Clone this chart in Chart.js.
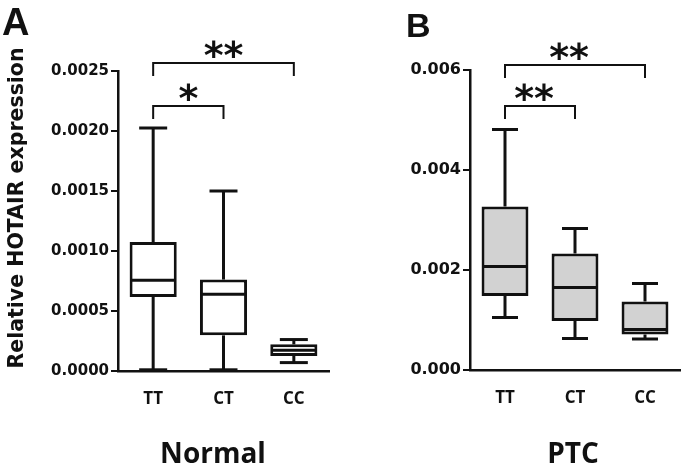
<!DOCTYPE html>
<html>
<head>
<meta charset="utf-8">
<script src="https://cdn.jsdelivr.net/npm/chart.js@4.4.1/dist/chart.umd.min.js"></script>
<style>
  html, body { margin:0; padding:0; background:#fff; }
  #wrap { position:relative; width:685px; height:470px; overflow:hidden; }
  .panel { position:absolute; top:0; }
</style>
</head>
<body>
<div id="wrap">
  <div class="panel" style="left:0"><canvas id="chart-normal" width="340" height="470"></canvas></div>
  <div class="panel" style="left:340px"><canvas id="chart-ptc" width="345" height="470"></canvas></div>
</div>
<script>
/* ─── Data ────────────────────────────────────────────────────────────── */
const categories = ["TT", "CT", "CC"];

// Normal tissue (panel A)
const normalMin    = [0.00001, 0.00001, 0.00007];
const normalQ1     = [0.000617, 0.000297, 0.000125];
const normalMedian = [0.000756, 0.000639, 0.000172];
const normalQ3     = [0.001075, 0.000762, 0.000222];
const normalMax    = [0.002025, 0.0015, 0.000262];
const normalTicks  = [0, 0.0005, 0.001, 0.0015, 0.002, 0.0025];
const normalSig    = [[0, 2, "**"], [0, 1, "*"]];

// PTC tissue (panel B)
const ptcMin    = [0.00105, 0.00063, 0.00062];
const ptcQ1     = [0.00148, 0.00098, 0.00071];
const ptcMedian = [0.00207, 0.00165, 0.00081];
const ptcQ3     = [0.00327, 0.00233, 0.00137];
const ptcMax    = [0.00481, 0.00283, 0.00173];
const ptcTicks  = [0, 0.002, 0.004, 0.006];
const ptcSig    = [[0, 2, "**"], [0, 1, "**"]];

const INK = "#111";

/* ─── Whiskers + median ───────────────────────────────────────────────── */
const whiskerPlugin = {
  id: "whiskers",
  afterDatasetsDraw(chart, args, o) {
    const { ctx, scales: { x, y } } = chart;
    const meta = chart.getDatasetMeta(0);
    ctx.save();
    ctx.strokeStyle = INK;
    ctx.lineWidth = 3;
    const line = (x1, y1, x2, y2) => { ctx.beginPath(); ctx.moveTo(x1, y1); ctx.lineTo(x2, y2); ctx.stroke(); };
    o.min.forEach((mn, i) => {
      const cx = x.getPixelForValue(i);
      const half = meta.data[i].width / 2;
      const cap = o.cap / 2;
      const yMin = y.getPixelForValue(mn), yMax = y.getPixelForValue(o.max[i]);
      const yQ1 = y.getPixelForValue(o.q1[i]), yQ3 = y.getPixelForValue(o.q3[i]);
      const yMed = y.getPixelForValue(o.median[i]);
      line(cx, yQ3, cx, yMax);
      line(cx - cap, yMax, cx + cap, yMax);
      line(cx, yQ1, cx, yMin);
      line(cx - cap, yMin, cx + cap, yMin);
      line(cx - half + 1.5, yMed, cx + half - 1.5, yMed);
    });
    ctx.restore();
  },
};

/* ─── Brackets, letters, titles ───────────────────────────────────────── */
const annotPlugin = {
  id: "annot",
  afterDraw(chart, args, o) {
    const { ctx, chartArea: ca, scales: { x } } = chart;
    ctx.save();
    ctx.strokeStyle = INK;
    ctx.fillStyle = INK;
    ctx.lineWidth = 2;

    // significance brackets
    o.sig.forEach(([a, b, label], k) => {
      const x1 = x.getPixelForValue(a), x2 = x.getPixelForValue(b);
      const yb = ca.top + o.bracketY[k];
      ctx.beginPath();
      ctx.moveTo(x1, yb + 13);
      ctx.lineTo(x1, yb);
      ctx.lineTo(x2, yb);
      ctx.lineTo(x2, yb + 13);
      ctx.stroke();
      ctx.font = "bold 38px 'DejaVu Sans'";
      ctx.textAlign = "center";
      ctx.textBaseline = "alphabetic";
      ctx.fillText(label, (x1 + x2) / 2 + o.starDx, yb + 5);
    });

    // panel letter
    ctx.font = `bold ${o.letterSize}px 'Liberation Sans', Arial`;
    ctx.textAlign = "left";
    ctx.textBaseline = "alphabetic";
    ctx.fillText(o.letter, o.letterX, o.letterY);

    // group title
    ctx.font = "bold 28px 'Open Sans'";
    ctx.textAlign = "center";
    ctx.textBaseline = "middle";
    ctx.fillText(o.group, o.groupX, 455);

    // y title
    if (o.yTitle) {
      ctx.translate(18, 208);
      ctx.rotate(-Math.PI / 2);
      ctx.font = "bold 20.5px 'DejaVu Sans'";
      ctx.textAlign = "center";
      ctx.textBaseline = "middle";
      ctx.fillText(o.yTitle, 0, 0);
    }
    ctx.restore();
  },
};

/* ─── Chart builder ───────────────────────────────────────────────────── */
function boxChart(id, cfg) {
  const ctx = document.getElementById(id).getContext("2d");
  return new Chart(ctx, {
    type: "bar",
    data: {
      labels: categories,
      datasets: [{
        data: categories.map((_, i) => [cfg.q1[i], cfg.q3[i]]),
        backgroundColor: cfg.fill,
        borderColor: INK,
        borderWidth: 3,
        borderSkipped: false,
        barPercentage: 0.67,
        categoryPercentage: 1,
      }],
    },
    options: {
      responsive: false, animation: false,
      layout: { padding: { left: 0, right: cfg.padRight, top: cfg.top, bottom: 470 - cfg.bottom - 40 } },
      plugins: {
        legend: { display: false },
        tooltip: { enabled: false },
        whiskers: { min: cfg.min, q1: cfg.q1, median: cfg.median, q3: cfg.q3, max: cfg.max, cap: cfg.cap },
        annot: cfg.annot,
      },
      scales: {
        x: {
          grid: { display: false },
          border: { color: INK, width: 2.5 },
          ticks: { color: INK, font: { family: "'Open Sans'", weight: "bold", size: 17 }, padding: 10 },
          afterFit: s => { s.height = 40; },
        },
        y: {
          min: 0, max: cfg.ticks[cfg.ticks.length - 1],
          afterBuildTicks: s => { s.ticks = cfg.ticks.map(v => ({ value: v })); },
          ticks: {
            color: INK, padding: 2,
            font: { family: "'DejaVu Sans'", weight: "bold", size: cfg.tickSize },
            callback: v => v.toFixed(cfg.decimals),
          },
          grid: { drawOnChartArea: false, drawTicks: true, tickLength: 7, color: INK, lineWidth: 2 },
          border: { color: INK, width: 2.5 },
          afterFit: s => { s.width = cfg.left; },
        },
      },
    },
    plugins: [whiskerPlugin, annotPlugin],
  });
}

boxChart("chart-normal", {
  min: normalMin, q1: normalQ1, median: normalMedian, q3: normalQ3, max: normalMax,
  ticks: normalTicks, decimals: 4, tickSize: 15, fill: "#ffffff", cap: 28,
  left: 118, padRight: 11, top: 71, bottom: 371,
  annot: { sig: normalSig, bracketY: [-8, 35], starDx: 0, letter: "A", letterSize: 38, letterX: 2, letterY: 35,
           group: "Normal", groupX: 213, yTitle: "Relative HOTAIR expression" },
});

boxChart("chart-ptc", {
  min: ptcMin, q1: ptcQ1, median: ptcMedian, q3: ptcQ3, max: ptcMax,
  ticks: ptcTicks, decimals: 3, tickSize: 16, fill: "#d2d2d2", cap: 26,
  left: 130, padRight: 5, top: 70, bottom: 370,
  annot: { sig: ptcSig, bracketY: [-5, 36], starDx: -6, letter: "B", letterSize: 34, letterX: 66, letterY: 37,
           group: "PTC", groupX: 233, yTitle: null },
});
</script>
</body>
</html>
